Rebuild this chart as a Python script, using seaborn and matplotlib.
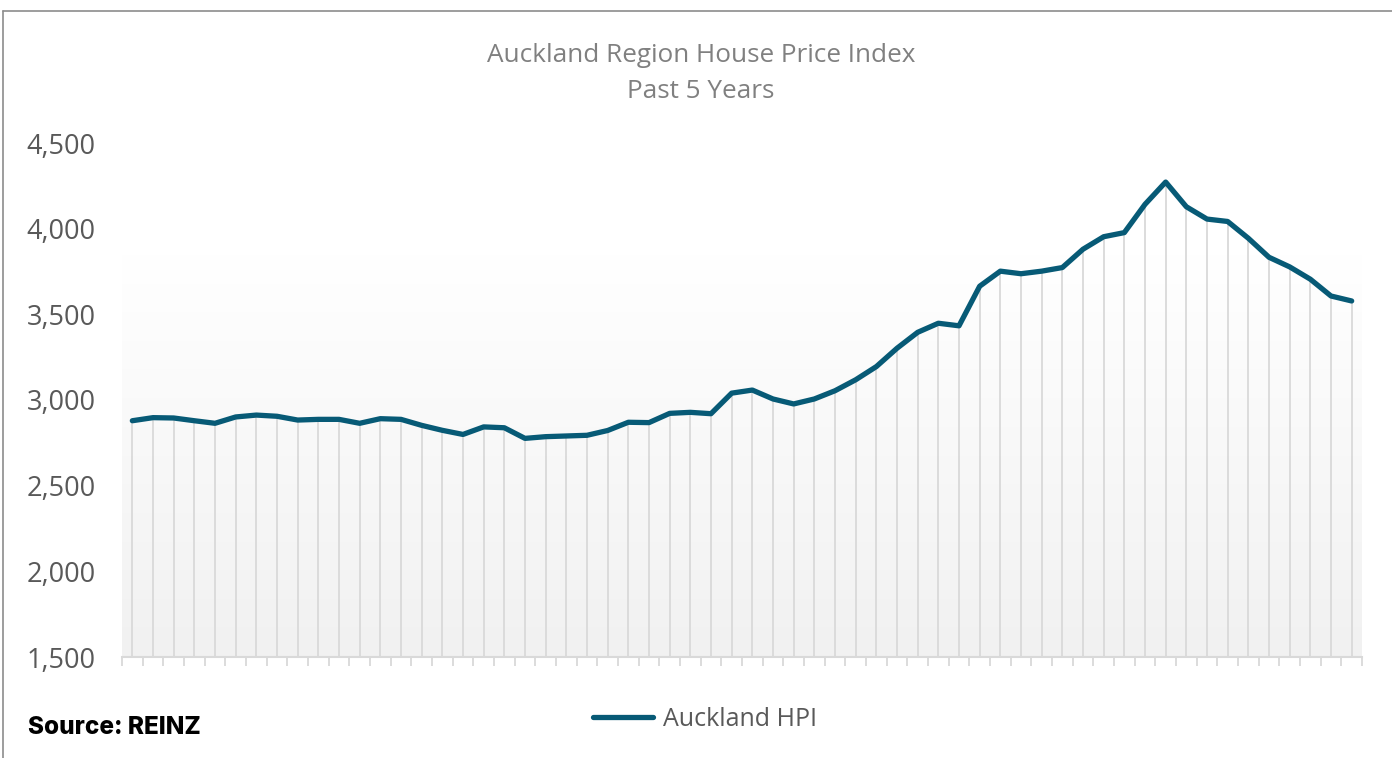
import numpy as np
import pandas as pd
import seaborn as sns
import matplotlib.pyplot as plt
from matplotlib.lines import Line2D
from matplotlib.colors import LinearSegmentedColormap

# ---- data ----
period = list(range(1, 61))
auckland_hpi = [2879, 2897, 2895, 2879, 2864, 2901, 2912, 2905, 2883, 2887,
                2887, 2864, 2891, 2887, 2852, 2823, 2799, 2843, 2838, 2776,
                2786, 2790, 2794, 2822, 2870, 2868, 2922, 2928, 2920, 3040,
                3058, 3006, 2977, 3006, 3054, 3118, 3195, 3302, 3395, 3448,
                3433, 3664, 3752, 3737, 3752, 3773, 3880, 3953, 3977, 4142,
                4272, 4128, 4056, 4042, 3944, 3833, 3777, 3705, 3607, 3578]
series_name = "Auckland HPI"
y_ticks = [1500, 2000, 2500, 3000, 3500, 4000, 4500]

df = pd.DataFrame({"period": period, "hpi": auckland_hpi})
df["x"] = np.arange(len(df))

sns.set_theme(style="white")
plt.rcParams['font.family'] = ['Open Sans', 'DejaVu Sans']

W, H = 1392, 758
fig = plt.figure(figsize=(W / 100, H / 100), dpi=100)
ax = fig.add_axes([122 / W, (H - 657) / H, 1240 / W, (657 - 143) / H])

# gradient background of plot area
cmap = LinearSegmentedColormap.from_list("g", ["#f1f1f1", "#ffffff"])
grad = np.linspace(0, 1, 256).reshape(-1, 1)
ax.imshow(grad, aspect="auto", cmap=cmap, origin="lower",
          extent=(-0.5, len(df) - 0.5, 1500, 3850), zorder=0)

# drop lines
ax.vlines(df["x"], 1500, df["hpi"], color="#d9d9d9", lw=1.3, zorder=1)

sns.lineplot(data=df, x="x", y="hpi", ax=ax, color="#075a76", lw=3.8,
             label=series_name, zorder=3, legend=False)
ax.lines[-1].set_solid_capstyle("round")
ax.lines[-1].set_solid_joinstyle("round")

ax.set_xlim(-0.5, len(df) - 0.5)
ax.set_ylim(1500, 4500)
ax.set_yticks(y_ticks)
ax.set_yticklabels([f"{v:,}" for v in y_ticks], fontsize=19.5, color="#595959")
ax.set_xticks(np.arange(-0.5, len(df), 1.0))
ax.set_xticklabels([])
ax.tick_params(axis="x", bottom=True, direction="out", length=6.5, width=1.3,
               color="#d9d9d9", pad=0)
ax.tick_params(axis="y", left=False, length=0, pad=19)
for s in ["top", "right", "left"]:
    ax.spines[s].set_visible(False)
ax.spines["bottom"].set_color("#d9d9d9")
ax.spines["bottom"].set_linewidth(1.5)
ax.set_xlabel("")
ax.set_ylabel("")
ax.grid(False)
ax.set_facecolor("white")

# title
fig.text(701 / W, 1 - 56 / H, "Auckland Region House Price Index", ha="center", va="center",
         fontsize=18.8, color="#808080")
fig.text(701 / W, 1 - 91 / H, "Past 5 Years", ha="center", va="center",
         fontsize=18.8, color="#808080")

# legend
handle = Line2D([0], [0], color="#075a76", lw=3.8, solid_capstyle="round")
leg = fig.legend([handle], [series_name], loc="center", bbox_to_anchor=(705 / W, 1 - 719 / H),
                 frameon=False, fontsize=18, handlelength=2.4, handletextpad=0.4)
for t in leg.get_texts():
    t.set_color("#595959")

# source
fig.text(28 / W, 1 - 728 / H, "Source: REINZ", ha="left", va="center", fontsize=17.5,
         fontweight="heavy", color="black", family=["Inter", "DejaVu Sans"])

# border
fig.add_artist(Line2D([3 / W, 1], [1 - 11 / H, 1 - 11 / H], transform=fig.transFigure,
                      color="#8c8c8c", lw=1.2))
fig.add_artist(Line2D([3 / W, 3 / W], [0, 1 - 11 / H], transform=fig.transFigure,
                      color="#8c8c8c", lw=1.2))

fig.savefig("out.png", dpi=100)
